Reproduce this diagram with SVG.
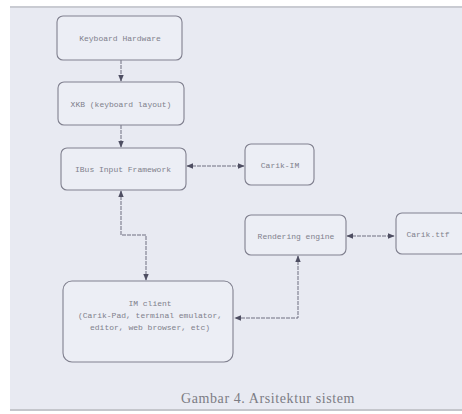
<svg xmlns="http://www.w3.org/2000/svg" width="462" height="414" viewBox="0 0 462 414">
<defs>
<marker id="ah" viewBox="0 0 10 10" refX="9" refY="5" markerWidth="7" markerHeight="7" orient="auto-start-reverse" markerUnits="userSpaceOnUse">
<path d="M0,1 L10,5 L0,9 Z" fill="#4e4e62"/>
</marker>
</defs>
<style>
.box{fill:#eceef5;stroke:#80808f;stroke-width:1.1}
.t{font-family:"Liberation Mono",monospace;font-size:8px;fill:#80808c;text-anchor:middle}
.c{fill:none;stroke:#6e6e80;stroke-width:1;stroke-dasharray:4 1}
.cap{font-family:"Liberation Serif",serif;font-size:14px;fill:#7c7c84;text-anchor:middle;letter-spacing:0.6px}
</style>
<rect x="0" y="0" width="462" height="414" fill="#ffffff"/>
<rect x="10" y="7" width="452" height="403" fill="#e8eaf2"/>
<rect x="10" y="6" width="452" height="2" fill="#c9cbd2"/>
<rect x="10" y="409" width="452" height="2" fill="#c4c6cc"/>
<g id="connectors">
<line class="c" x1="121" y1="60" x2="121" y2="81" marker-end="url(#ah)"/>
<line class="c" x1="121" y1="125" x2="121" y2="147" marker-end="url(#ah)"/>
<line class="c" x1="187" y1="166" x2="244" y2="166" marker-start="url(#ah)" marker-end="url(#ah)"/>
<line class="c" x1="347" y1="236" x2="394" y2="236" marker-start="url(#ah)" marker-end="url(#ah)"/>
<polyline class="c" points="121,191 121,235 146,235 146,280" marker-start="url(#ah)" marker-end="url(#ah)"/>
<polyline class="c" points="298,256 298,318 235,318" marker-start="url(#ah)" marker-end="url(#ah)"/>
</g>
<g id="keyboard-hardware">
<rect class="box" x="57" y="16" width="125" height="44" rx="6"/>
<text class="t" x="120" y="41">Keyboard Hardware</text>
</g>
<g id="xkb">
<rect class="box" x="58" y="82" width="126" height="43" rx="6"/>
<text class="t" x="121" y="107">XKB (keyboard layout)</text>
</g>
<g id="ibus">
<rect class="box" x="61" y="148" width="125" height="42" rx="6"/>
<text class="t" x="123" y="172">IBus Input Framework</text>
</g>
<g id="carik-im">
<rect class="box" x="245" y="144" width="69" height="41" rx="6"/>
<text class="t" x="280" y="168">Carik-IM</text>
</g>
<g id="rendering-engine">
<rect class="box" x="245" y="215" width="101" height="40" rx="6"/>
<text class="t" x="296" y="239">Rendering engine</text>
</g>
<g id="carik-ttf">
<rect class="box" x="396" y="213" width="70" height="41" rx="6"/>
<text class="t" x="428" y="237">Carik.ttf</text>
</g>
<g id="im-client">
<rect class="box" x="63" y="281" width="170" height="81" rx="9"/>
<text class="t" x="150" y="306">IM client</text>
<text class="t" x="150" y="318">(Carik-Pad, terminal emulator,</text>
<text class="t" x="150" y="330">editor, web browser, etc)</text>
</g>
<text class="cap" x="268" y="403">Gambar 4. Arsitektur sistem</text>
</svg>
